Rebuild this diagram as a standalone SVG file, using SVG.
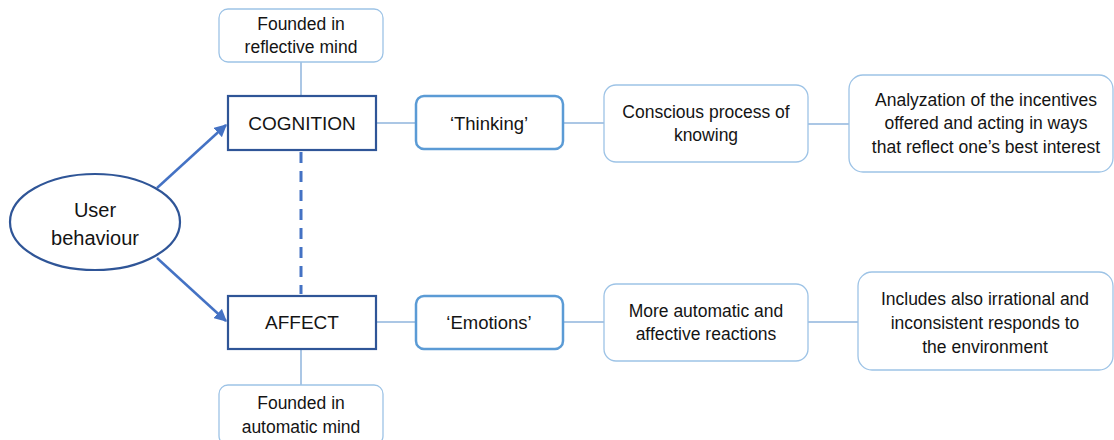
<svg xmlns="http://www.w3.org/2000/svg" width="1114" height="440" viewBox="0 0 1114 440">
  <defs>
    <marker id="arrow" viewBox="0 0 10 10" refX="9" refY="5" markerWidth="5" markerHeight="5" orient="auto" markerUnits="strokeWidth">
      <path d="M0,0 L10,5 L0,10 z" fill="#4472C4"/>
    </marker>
  </defs>
  <style>
    text { font-family: "Liberation Sans", Arial, sans-serif; font-size: 17.5px; fill: #141414; text-anchor: middle; dominant-baseline: central; }
    .big { font-size: 19px; }
    .user { font-size: 20px; }
    .tag { font-size: 18.5px; }
    .core { fill: #fff; stroke: #2F5597; stroke-width: 2.2; }
    .mid { fill: #fff; stroke: #5B9BD5; stroke-width: 2.5; }
    .light { fill: #fff; stroke: #9DC3E6; stroke-width: 1.3; }
    .link { stroke: #8FB4DC; stroke-width: 1.5; fill: none; }
    .arrow { stroke: #4472C4; stroke-width: 2.5; fill: none; marker-end: url(#arrow); }
    .dash { stroke: #4472C4; stroke-width: 3; stroke-dasharray: 11 8; fill: none; }
  </style>

  <g id="connectors">
    <line class="arrow" x1="157" y1="188" x2="226" y2="125"/>
    <line class="arrow" x1="157" y1="258" x2="226" y2="321"/>
    <line class="dash" x1="301" y1="152" x2="301" y2="294"/>
    <line class="link" x1="301" y1="62" x2="301" y2="96"/>
    <line class="link" x1="301" y1="349" x2="301" y2="385"/>
    <line class="link" x1="376" y1="123" x2="416" y2="123"/>
    <line class="link" x1="563" y1="123" x2="604" y2="123"/>
    <line class="link" x1="808" y1="124" x2="849" y2="124"/>
    <line class="link" x1="376" y1="322" x2="416" y2="322"/>
    <line class="link" x1="563" y1="322" x2="604" y2="322"/>
    <line class="link" x1="808" y1="322" x2="858" y2="322"/>
  </g>

  <g id="user-behaviour">
    <ellipse class="core" cx="95" cy="222" rx="85" ry="48"/>
    <text class="user" x="95" y="210">User</text>
    <text class="user" x="95" y="238">behaviour</text>
  </g>

  <g id="reflective-mind">
    <rect class="light" x="219" y="9" width="164" height="53" rx="9"/>
    <text x="301" y="24">Founded in</text>
    <text x="301" y="47">reflective mind</text>
  </g>

  <g id="cognition">
    <rect class="core" x="228" y="96" width="148" height="54"/>
    <text class="big" x="302" y="123">COGNITION</text>
  </g>

  <g id="affect">
    <rect class="core" x="228" y="296" width="148" height="53"/>
    <text class="big" x="302" y="322">AFFECT</text>
  </g>

  <g id="automatic-mind">
    <rect class="light" x="219" y="385" width="164" height="60" rx="9"/>
    <text x="301" y="403">Founded in</text>
    <text x="301" y="427">automatic mind</text>
  </g>

  <g id="thinking">
    <rect class="mid" x="416" y="96" width="147" height="53" rx="8"/>
    <text class="tag" x="489" y="123">‘Thinking’</text>
  </g>

  <g id="conscious">
    <rect class="light" x="604" y="85" width="204" height="77" rx="12"/>
    <text x="706" y="112">Conscious process of</text>
    <text x="706" y="135">knowing</text>
  </g>

  <g id="analyzation">
    <rect class="light" x="849" y="75" width="264" height="97" rx="14"/>
    <text x="986" y="100">Analyzation of the incentives</text>
    <text x="986" y="123">offered and acting in ways</text>
    <text x="986" y="147">that reflect one’s best interest</text>
  </g>

  <g id="emotions">
    <rect class="mid" x="416" y="296" width="147" height="53" rx="8"/>
    <text class="tag" x="489" y="322">‘Emotions’</text>
  </g>

  <g id="automatic-reactions">
    <rect class="light" x="604" y="284" width="204" height="77" rx="12"/>
    <text x="706" y="311">More automatic and</text>
    <text x="706" y="334">affective reactions</text>
  </g>

  <g id="irrational">
    <rect class="light" x="858" y="272" width="255" height="98" rx="14"/>
    <text x="985" y="299">Includes also irrational and</text>
    <text x="985" y="323">inconsistent responds to</text>
    <text x="985" y="347">the environment</text>
  </g>
</svg>
